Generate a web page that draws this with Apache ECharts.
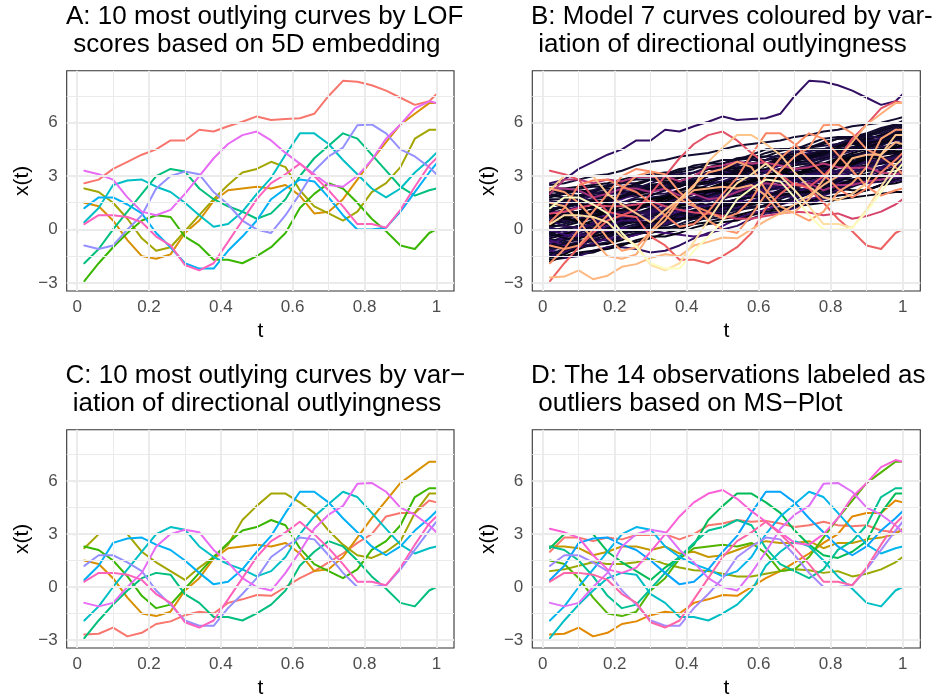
<!DOCTYPE html>
<html><head><meta charset="utf-8">
<script src="https://cdn.jsdelivr.net/npm/echarts@6/dist/echarts.min.js"></script>
<style>html,body{margin:0;padding:0;background:#fff}#c{width:936px;height:700px}</style>
</head><body><div id="c"></div><script>
// ---- data ----
const tGrid = [0.02,0.06,0.10,0.14,0.18,0.22,0.26,0.30,0.34,0.38,0.42,0.46,0.50,0.54,0.58,0.62,0.66,0.70,0.74,0.78,0.82,0.86,0.90,0.94,0.98,1.00];

const u01 = [2.6,2.8,3.4,3.8,4.2,4.5,5.0,5.0,5.6,5.5,5.8,6.05,6.35,6.15,6.2,6.25,6.5,7.5,8.35,8.3,8.1,7.8,7.4,7.0,7.2,7.6];
const u02 = [1.5,1.3,0.5,-0.6,-1.5,-1.65,-1.4,-0.2,0.5,1.6,2.2,2.3,2.4,2.3,2.5,1.9,0.9,1.0,1.7,2.8,3.9,4.9,5.9,6.5,7.1,7.1];
const u03 = [2.3,2.1,1.5,0.6,-0.5,-1.2,-1.0,-0.1,0.8,1.7,2.5,3.2,3.4,3.8,3.5,2.2,1.3,0.9,0.5,1.0,2.1,2.6,3.5,5.1,5.6,5.6];
const u04 = [-2.9,-1.9,-1.0,-0.2,0.5,0.8,0.7,-0.4,-0.9,-1.7,-1.7,-1.9,-1.5,-1.0,-0.2,1.2,2.0,2.6,2.3,1.5,0.6,-0.1,-0.9,-1.1,-0.2,0.0];
const u05 = [-1.9,-1.1,0.0,1.0,2.0,3.0,3.4,3.25,2.3,1.7,1.3,1.0,0.6,0.9,1.7,3.0,4.0,4.7,5.4,5.1,4.2,3.3,2.4,1.9,2.2,2.3];
const u06 = [0.4,1.2,2.5,2.75,2.8,2.4,2.1,1.5,0.8,0.15,0.3,1.0,2.0,2.9,4.2,5.4,5.4,4.8,3.9,3.1,2.3,1.8,2.3,3.2,3.9,4.3];
const u07 = [1.2,1.8,1.8,1.4,0.9,-0.2,-1.0,-1.9,-2.2,-2.2,-1.2,-0.4,0.5,1.7,2.3,2.8,2.7,1.8,0.8,0.0,0.0,0.1,1.0,2.1,3.2,3.7];
const u08 = [-0.9,-1.1,-0.9,0.0,0.8,2.3,3.0,3.25,3.1,2.1,1.4,0.5,0.0,-0.2,0.8,2.0,3.3,4.1,4.6,5.85,5.9,5.4,4.5,4.1,3.5,3.1];
const u09 = [3.3,3.1,2.8,1.8,1.0,0.8,1.1,2.0,3.0,4.0,4.8,5.3,5.5,5.0,4.3,3.7,3.1,2.5,2.4,3.0,3.9,5.1,5.9,6.8,7.2,7.1];
const u10 = [0.3,0.8,0.8,0.7,0.4,-0.4,-0.9,-2.0,-2.3,-1.9,-0.7,0.5,1.7,2.6,3.1,3.7,3.0,2.2,1.3,0.3,0.3,0.1,1.1,2.4,3.6,4.0];
const u11 = [-2.7,-2.65,-2.3,-2.8,-2.6,-2.1,-1.95,-1.6,-1.4,-1.5,-0.9,-0.7,-0.45,-0.5,0.0,0.5,0.9,1.4,1.9,2.5,3.0,4.0,4.2,4.2,4.9,4.8];
const u12 = [2.2,3.0,3.0,3.0,2.0,1.4,0.9,0.4,1.1,1.7,2.4,3.8,4.6,5.3,5.3,4.8,4.2,3.2,2.4,1.8,1.65,2.0,2.6,4.2,5.3,5.3];
const u13 = [2.0,2.8,2.8,2.6,2.8,2.7,2.95,2.95,3.0,2.7,3.0,3.5,3.6,3.8,3.7,3.75,3.6,3.4,3.5,3.7,3.5,3.45,3.5,3.2,3.1,3.2];
const u14 = [2.3,2.3,2.2,1.8,2.0,2.3,2.3,2.1,2.3,1.9,2.0,1.7,1.8,2.1,2.4,2.6,2.5,2.5,2.6,2.2,2.5,2.5,2.7,2.8,3.0,3.3];
const u15 = [0.9,1.0,1.2,1.4,1.3,1.3,1.4,1.6,1.3,1.1,0.95,0.9,0.75,0.6,0.6,0.75,0.9,1.0,0.95,0.8,0.9,0.6,0.75,1.0,1.4,1.7];

// panel membership (in drawing order)
const panelA = [u01,u02,u03,u04,u05,u06,u07,u08,u09,u10];
const panelC = [u11,u02,u12,u03,u04,u05,u06,u07,u08,u10];
const panelD = [u13,u11,u14,u15,u02,u12,u03,u04,u05,u06,u07,u08,u09,u10];

// panel B: typical curves (estimated) and the outlying ones, with variation of directional outlyingness (0..1 scaled)
const bgCurvesLow = [
 [-1.7,-1.6,-1.4,-1.3,-1.0,-0.8,-0.7,-0.5,-0.2,0.0,0.3,0.4,0.6,0.7,0.9,1.1,1.2,1.3,1.4,1.5,1.7,1.8,1.9,2.0,2.1,2.1],
 [-1.5,-1.2,-1.0,-0.9,-0.8,-0.5,-0.3,0.0,0.1,0.2,0.4,0.7,0.9,1.1,1.2,1.3,1.5,1.8,2.0,2.1,2.3,2.6,2.8,2.9,3.1,3.2],
 [-1.3,-1.3,-1.1,-0.8,-0.4,-0.2,-0.1,0.1,0.4,0.6,0.6,0.8,1.1,1.2,1.4,1.6,1.9,2.0,2.1,2.4,2.5,2.6,2.7,3.0,3.2,3.3],
 [-1.2,-0.9,-0.7,-0.6,-0.6,-0.3,0.0,0.3,0.5,0.6,0.7,0.9,1.2,1.5,1.6,1.7,1.8,2.1,2.3,2.5,2.6,2.7,2.9,3.2,3.5,3.6],
 [-1.0,-1.1,-0.9,-0.6,-0.3,-0.2,0.0,0.1,0.3,0.6,0.9,1.1,1.2,1.3,1.5,1.8,2.1,2.2,2.3,2.6,2.8,3.0,3.1,3.3,3.4,3.5],
 [-0.9,-0.6,-0.4,-0.4,-0.2,0.1,0.3,0.4,0.4,0.7,1.0,1.2,1.3,1.6,1.9,2.0,2.1,2.3,2.6,2.8,2.9,3.0,3.3,3.5,3.6,3.7],
 [-0.8,-0.8,-0.5,-0.2,0.0,0.0,0.2,0.5,0.8,0.9,1.0,1.2,1.5,1.7,1.8,1.9,2.2,2.5,2.6,2.7,2.9,3.2,3.4,3.5,3.6,3.7],
 [-0.7,-0.4,-0.3,-0.1,0.1,0.4,0.6,0.6,0.7,1.0,1.3,1.4,1.5,1.7,2.0,2.2,2.3,2.4,2.7,2.9,3.0,3.2,3.5,3.7,3.8,3.8],
 [-0.6,-0.6,-0.4,0.0,0.3,0.4,0.5,0.7,1.0,1.2,1.3,1.4,1.7,2.0,2.1,2.2,2.4,2.7,2.9,3.0,3.1,3.4,3.6,3.7,3.8,4.0],
 [-0.5,-0.3,0.0,0.1,0.1,0.3,0.6,0.9,1.0,1.1,1.3,1.6,1.8,1.9,2.0,2.3,2.6,2.7,2.8,3.0,3.3,3.5,3.6,3.7,4.0,4.1],
 [-0.4,-0.2,-0.2,0.1,0.4,0.6,0.6,0.8,1.1,1.4,1.5,1.6,1.8,2.1,2.3,2.4,2.5,2.8,3.1,3.2,3.3,3.5,3.8,4.0,4.1,4.2],
 [-0.3,-0.3,0.0,0.3,0.4,0.5,0.8,1.1,1.2,1.3,1.5,1.8,2.0,2.1,2.2,2.5,2.8,2.9,3.0,3.2,3.5,3.7,3.8,3.9,4.1,4.2]
];
const bgCurvesMid = [
 [-0.2,0.0,0.2,0.2,0.4,0.7,1.0,1.0,1.1,1.4,1.7,1.9,1.9,2.1,2.4,2.7,2.8,2.8,3.0,3.3,3.6,3.7,3.7,3.9,4.2,4.3],
 [-0.1,0.1,0.1,0.3,0.6,0.9,0.9,1.0,1.3,1.6,1.7,1.8,2.0,2.3,2.6,2.6,2.7,3.0,3.3,3.4,3.5,3.6,3.9,4.2,4.3,4.3],
 [0.0,0.0,0.2,0.5,0.7,0.8,0.9,1.2,1.5,1.6,1.6,1.9,2.2,2.4,2.5,2.6,2.9,3.2,3.3,3.3,3.5,3.8,4.1,4.2,4.3,4.4],
 [0.1,0.3,0.5,0.6,0.6,0.8,1.1,1.4,1.4,1.5,1.8,2.1,2.2,2.3,2.5,2.8,3.0,3.1,3.2,3.4,3.7,4.0,4.0,4.2,4.5,4.5],
 [0.2,0.2,0.4,0.7,0.9,1.0,1.2,1.3,1.4,1.7,2.0,2.1,2.2,2.4,2.7,2.9,2.9,3.1,3.4,3.6,3.7,3.8,4.1,4.4,4.5,4.6],
 [0.3,0.5,0.6,0.6,0.8,1.1,1.3,1.3,1.5,1.8,2.0,2.0,2.3,2.6,2.7,2.8,3.0,3.3,3.5,3.5,3.7,4.0,4.3,4.4,4.5,4.6],
 [0.4,0.4,0.6,0.9,1.0,1.1,1.2,1.5,1.8,1.9,2.0,2.2,2.5,2.6,2.7,2.9,3.2,3.4,3.4,3.6,3.9,4.2,4.3,4.4,4.6,4.7],
 [0.5,0.7,0.8,0.8,1.0,1.3,1.5,1.5,1.7,2.0,2.2,2.2,2.4,2.7,2.9,2.9,3.1,3.4,3.6,3.7,3.8,4.1,4.4,4.5,4.6,4.8],
 [0.6,0.6,0.8,1.1,1.2,1.3,1.5,1.8,1.9,2.0,2.2,2.5,2.7,2.7,2.9,3.2,3.4,3.4,3.6,3.9,4.1,4.1,4.3,4.6,4.8,4.9],
 [0.7,0.9,1.0,1.0,1.2,1.5,1.7,1.7,1.9,2.2,2.3,2.3,2.6,2.9,3.0,3.0,3.3,3.6,3.7,3.7,4.0,4.3,4.5,4.5,4.7,5.0],
 [0.8,0.8,1.0,1.3,1.4,1.5,1.8,2.0,2.0,2.2,2.5,2.6,2.7,3.0,3.2,3.2,3.4,3.7,3.9,4.0,4.2,4.4,4.6,4.8,5.0,5.0],
 [0.9,1.1,1.2,1.2,1.5,1.8,1.9,1.9,2.2,2.5,2.5,2.6,2.9,3.1,3.1,3.3,3.6,3.8,3.8,4.0,4.3,4.5,4.6,4.8,5.1,5.1]
];
const bgCurvesHigh = [
 [1.0,1.0,1.3,1.5,1.6,1.7,2.0,2.2,2.2,2.4,2.7,2.8,2.9,3.2,3.3,3.3,3.6,3.9,4.0,4.1,4.4,4.6,4.7,4.9,5.2,5.3],
 [1.1,1.3,1.4,1.4,1.7,1.9,2.0,2.1,2.4,2.6,2.6,2.7,3.0,3.3,3.3,3.4,3.7,4.0,4.0,4.2,4.5,4.6,4.8,5.1,5.3,5.3],
 [1.2,1.2,1.4,1.7,1.8,1.8,2.1,2.4,2.4,2.5,2.8,3.0,3.0,3.2,3.5,3.6,3.6,3.9,4.2,4.2,4.3,4.6,4.9,5.0,5.2,5.4],
 [1.4,1.5,1.5,1.7,2.0,2.1,2.1,2.3,2.6,2.7,2.7,3.0,3.2,3.2,3.4,3.7,3.8,3.8,4.1,4.4,4.4,4.6,4.9,5.1,5.3,5.5],
 [1.5,1.4,1.6,1.9,2.0,2.0,2.3,2.5,2.5,2.7,3.0,3.1,3.1,3.4,3.7,3.7,3.8,4.1,4.3,4.3,4.6,4.9,5.0,5.1,5.4,5.6],
 [1.7,1.7,1.8,2.0,2.1,2.2,2.4,2.5,2.6,2.9,3.0,3.1,3.3,3.5,3.6,3.7,4.0,4.1,4.2,4.5,4.7,4.8,5.0,5.3,5.5,5.7],
 [1.9,1.8,1.9,2.2,2.3,2.3,2.5,2.8,2.8,2.9,3.2,3.4,3.4,3.6,3.9,3.9,4.0,4.3,4.5,4.5,4.7,5.0,5.1,5.3,5.6,5.8],
 [2.1,2.2,2.1,2.2,2.5,2.6,2.6,2.8,3.1,3.1,3.2,3.5,3.6,3.6,3.9,4.1,4.1,4.3,4.6,4.7,4.8,5.1,5.3,5.4,5.7,5.9],
 [2.3,2.3,2.4,2.5,2.6,2.8,3.0,3.0,3.1,3.4,3.5,3.5,3.7,4.0,4.1,4.1,4.4,4.6,4.6,4.8,5.1,5.2,5.3,5.6,5.9,6.0],
 [2.5,2.6,2.8,3.0,3.1,3.3,3.6,3.8,3.9,4.1,4.2,4.3,4.5,4.7,4.8,4.9,5.0,5.2,5.3,5.5,5.6,5.8,5.9,6.0,6.2,6.3]
];
const bgCurvesWavy = [
 [-0.8,-0.5,0.0,0.4,0.7,0.8,0.7,0.6,0.8,1.1,1.0,0.9,1.1,1.5,1.9,2.3,2.5,2.4,2.5,2.9,3.3,3.4,3.3,3.5,3.9,4.0],
 [1.5,1.2,0.9,0.7,0.6,0.8,1.1,1.5,1.9,2.1,2.0,1.9,2.1,2.5,2.8,3.0,2.9,2.8,3.1,3.5,3.8,3.9,3.7,3.8,4.2,4.4],
 [0.2,0.6,1.0,1.3,1.4,1.3,1.2,1.4,1.8,2.2,2.4,2.3,2.1,2.2,2.6,3.0,3.2,3.1,3.0,3.3,3.7,4.0,4.1,4.0,4.1,4.3],
 [-1.2,-1.3,-1.0,-0.5,-0.1,0.1,0.0,0.0,0.3,0.7,1.0,1.0,0.9,1.2,1.6,1.9,1.9,1.8,2.1,2.5,2.7,2.6,2.6,2.9,3.1,3.2],
 [0.9,0.7,0.4,0.3,0.5,0.9,1.3,1.5,1.4,1.4,1.7,2.1,2.4,2.4,2.3,2.5,2.9,3.2,3.2,3.0,3.2,3.6,3.9,3.9,3.8,3.9],
 [2.0,1.8,1.6,1.7,2.1,2.4,2.5,2.3,2.2,2.5,2.9,3.1,3.0,2.9,3.2,3.6,3.8,3.7,3.7,4.1,4.5,4.6,4.5,4.7,5.1,5.2],
 [-0.3,0.0,0.2,0.1,0.0,0.2,0.6,0.9,0.9,0.8,1.0,1.4,1.6,1.5,1.5,1.8,2.2,2.3,2.2,2.3,2.7,3.0,3.0,2.9,3.1,3.3],
 [0.5,0.2,0.1,0.3,0.7,1.0,1.0,0.9,1.2,1.6,1.8,1.7,1.7,2.1,2.5,2.6,2.4,2.5,2.9,3.3,3.3,3.2,3.4,3.8,4.1,4.1],
 [-1.6,-1.4,-1.0,-0.8,-0.8,-0.6,-0.2,0.1,0.1,0.1,0.4,0.8,0.9,0.8,1.0,1.4,1.6,1.5,1.6,2.0,2.3,2.2,2.2,2.5,2.8,2.9],
 [1.3,1.6,1.9,1.9,1.8,1.9,2.2,2.5,2.6,2.5,2.6,3.0,3.3,3.3,3.3,3.6,4.0,4.1,4.0,4.2,4.6,4.8,4.7,4.8,5.1,5.3],
 [0.0,-0.3,-0.4,-0.2,0.2,0.5,0.5,0.4,0.6,1.0,1.3,1.3,1.2,1.5,1.9,2.1,2.0,2.0,2.4,2.8,2.9,2.8,3.0,3.4,3.6,3.7],
 [-1.0,-0.7,-0.6,-0.7,-0.5,-0.1,0.2,0.2,0.2,0.5,0.9,1.1,1.0,1.1,1.5,1.9,2.0,1.9,2.1,2.5,2.8,2.8,2.8,3.2,3.5,3.5],
 [1.8,2.0,2.2,2.1,2.0,2.2,2.6,2.8,2.7,2.7,3.0,3.4,3.5,3.4,3.5,3.9,4.2,4.2,4.1,4.4,4.8,4.9,4.8,5.0,5.4,5.5],
 [0.7,0.5,0.6,0.9,1.1,1.0,0.9,1.1,1.5,1.8,1.8,1.7,1.9,2.3,2.6,2.5,2.4,2.7,3.1,3.3,3.2,3.2,3.5,3.9,4.1,4.2],
 [-1.4,-1.6,-1.5,-1.2,-1.0,-1.0,-1.1,-1.3,-1.2,-0.9,-0.5,-0.2,0.0,0.2,0.6,0.9,1.0,1.2,1.5,1.7,1.9,2.0,2.2,2.5,2.7,2.8],
 [-0.6,-0.9,-1.0,-0.8,-0.5,-0.5,-0.3,-0.1,-0.2,-0.3,-0.4,-0.3,0.2,0.6,0.9,1.1,1.4,1.6,1.7,1.9,2.2,2.5,2.6,2.7,2.9,3.0]
];
const bgCurvesExtra = [
 [-1.8,-1.5,-1.3,-1.2,-1.1,-0.9,-0.6,-0.4,-0.4,-0.2,0.1,0.3,0.4,0.5,0.8,1.0,1.1,1.3,1.6,1.8,1.9,2.0,2.2,2.5,2.6,2.7],
 [-1.1,-0.8,-0.8,-0.6,-0.3,-0.1,0.1,0.2,0.5,0.8,0.8,0.9,1.1,1.4,1.5,1.5,1.7,2.0,2.2,2.2,2.4,2.7,2.9,3.0,3.0,3.1],
 [-0.2,-0.5,-0.5,-0.3,0.0,0.3,0.4,0.4,0.6,0.9,1.1,1.2,1.4,1.7,1.8,1.9,2.1,2.4,2.5,2.5,2.7,3.0,3.3,3.3,3.4,3.6],
 [0.4,0.7,0.9,1.0,1.0,1.1,1.4,1.7,1.8,1.8,2.0,2.3,2.6,2.6,2.7,3.0,3.3,3.4,3.4,3.6,3.9,4.1,4.1,4.3,4.6,4.7],
 [1.6,1.5,1.7,2.0,2.2,2.2,2.3,2.6,2.9,3.0,3.0,3.2,3.5,3.7,3.7,3.9,4.2,4.4,4.4,4.5,4.8,5.1,5.2,5.2,5.5,5.7],
 [2.2,2.0,1.9,2.1,2.4,2.7,2.8,2.8,3.0,3.3,3.6,3.7,3.7,3.9,4.2,4.5,4.5,4.5,4.8,5.1,5.2,5.2,5.4,5.7,5.9,6.1],
 [-0.9,-1.0,-0.8,-0.4,-0.2,-0.1,0.1,0.4,0.6,0.6,0.7,1.0,1.3,1.4,1.4,1.6,1.9,2.1,2.1,2.2,2.5,2.8,2.9,2.9,3.1,3.3],
 [0.1,-0.1,0.0,0.3,0.6,0.7,0.7,0.9,1.2,1.5,1.5,1.6,1.9,2.2,2.3,2.3,2.5,2.8,3.1,3.1,3.2,3.5,3.8,3.9,4.0,4.1],
 [1.0,1.3,1.5,1.6,1.6,1.8,2.1,2.3,2.3,2.4,2.7,3.0,3.1,3.1,3.3,3.6,3.9,3.9,4.0,4.3,4.5,4.5,4.6,4.9,5.1,5.1],
 [-1.4,-1.1,-0.9,-0.9,-0.7,-0.4,-0.2,-0.2,0.0,0.3,0.6,0.6,0.7,1.0,1.3,1.3,1.4,1.7,2.0,2.0,2.1,2.4,2.7,2.7,2.8,2.9],
 [0.8,0.6,0.5,0.7,1.0,1.3,1.4,1.4,1.6,1.9,2.1,2.1,2.2,2.5,2.8,2.9,2.9,3.1,3.4,3.6,3.6,3.7,4.0,4.3,4.4,4.4],
 [1.9,2.1,2.3,2.4,2.4,2.6,2.9,3.1,3.2,3.2,3.4,3.7,3.9,3.9,4.0,4.3,4.5,4.5,4.6,4.9,5.1,5.1,5.2,5.5,5.8,5.9]
];
const bgVO = [0.04,0.09,0.02,0.15,0.06,0.11,0.03,0.19,0.08,0.05,0.13,0.01,0.07,0.17,0.03,0.1,0.05,0.21,0.08,0.02,0.12,0.04,0.14,0.06,0.22,0.03,0.1,0.05,0.16,0.08,0.03,0.12,0.06,0.09,0.18,0.07,0.02,0.2,0.04,0.11,0.08,0.15,0.03,0.06,0.19,0.1,0.05,0.13,0.17,0.23,
 0.04,0.1,0.06,0.02,0.12,0.08,0.03,0.16,0.05,0.09,0.02,0.07];
const outB = [u01,u13,u14,u15,u09,u04,u06,u05,u08,u03,u02,u11,u12,u10,u07];
const outBVO = [0.18,0.5,0.45,0.58,0.62,0.66,0.74,0.76,0.78,0.8,0.83,0.85,0.88,0.93,1.0];

const xTicks = [0,0.2,0.4,0.6,0.8,1];
const xMinor = [0.1,0.3,0.5,0.7,0.9];
const yTicks = [-3,0,3,6];
const yMinor = [-1.5,1.5,4.5,7.5];
const titles = [
 'A: 10 most outlying curves by LOF\n scores based on 5D embedding',
 'B: Model 7 curves coloured by var-\n iation of directional outlyingness',
 'C: 10 most outlying curves by var\u2212\n iation of directional outlyingness',
 'D: The 14 observations labeled as\n outliers based on MS\u2212Plot'
];
const hue10 = ['#F8766D','#D89000','#A3A500','#39B600','#00BF7D','#00BFC4','#00B0F6','#9590FF','#E76BF3','#FF62BC'];
const hue14 = ['#F8766D','#E38900','#C49A00','#99A800','#53B400','#00BC56','#00C094','#00BFC4','#00B6EB','#06A4FF','#A58AFF','#DF70F8','#FB61D7','#FF66A8'];
const magma = ['#000004','#140E36','#3B0F70','#641A80','#8C2981','#B73779','#DE4968','#F7705C','#FE9F6D','#FECF92','#FCFDBF'];

// ---- layout ----
const FONT = '"Liberation Sans", Arial, Helvetica, sans-serif';
const grids = [
 {left:66.7, top:70.7, width:387.3, height:220.3},
 {left:532.3, top:70.7, width:388, height:220.3},
 {left:66.7, top:429.7, width:387.3, height:219.3},
 {left:532.3, top:429.7, width:388, height:219.3}
];
const titlePos = [{left:66,top:3},{left:531,top:3},{left:65.5,top:362},{left:531,top:362}];

function hex(c){return [parseInt(c.slice(1,3),16),parseInt(c.slice(3,5),16),parseInt(c.slice(5,7),16)];}
function magmaColor(v){
  const p = Math.max(0,Math.min(1,v))*(magma.length-1);
  const i = Math.min(Math.floor(p), magma.length-2), f = p-i;
  const a = hex(magma[i]), b = hex(magma[i+1]);
  return 'rgb('+a.map((x,k)=>Math.round(x+(b[k]-x)*f)).join(',')+')';
}
function curve(vals, color, gi){
  return {type:'line', xAxisIndex:gi, yAxisIndex:gi, data:tGrid.map((t,i)=>[t,vals[i]]),
    showSymbol:false, symbol:'none', smooth:false, lineStyle:{color:color, width:2, join:'round', cap:'round'}, itemStyle:{color:color},
    z:3, silent:true, animation:false, emphasis:{disabled:true}};
}
function gridLines(gi){
  const maj = {color:'#EBEBEB', width:1.9, type:'solid'}, mn = {color:'#EBEBEB', width:1, type:'solid'};
  return {type:'line', xAxisIndex:gi, yAxisIndex:gi, data:[], z:1, silent:true, animation:false,
    markLine:{silent:true, symbol:['none','none'], label:{show:false}, animation:false, emphasis:{disabled:true},
      data:[].concat(
        xMinor.map(v=>({xAxis:v, lineStyle:mn})), yMinor.map(v=>({yAxis:v, lineStyle:mn})),
        xTicks.map(v=>({xAxis:v, lineStyle:maj})), yTicks.map(v=>({yAxis:v, lineStyle:maj})))}};
}

const series = [];
for (let g=0; g<4; g++) series.push(gridLines(g));
panelA.forEach((c,i)=>series.push(curve(c,hue10[i],0)));
const bgAll = [].concat(bgCurvesLow,bgCurvesMid,bgCurvesHigh,bgCurvesWavy,bgCurvesExtra);
bgAll.forEach((c,i)=>series.push(curve(c,magmaColor(bgVO[i]),1)));
outB.forEach((c,i)=>series.push(curve(c,magmaColor(outBVO[i]),1)));
panelC.forEach((c,i)=>series.push(curve(c,hue10[i],2)));
panelD.forEach((c,i)=>series.push(curve(c,hue14[i],3)));

const minus = s => String(s).replace('-','\u2212');
const option = {
  backgroundColor:'#fff', animation:false,
  textStyle:{fontFamily:FONT},
  title: titles.map((t,i)=>({text:t, left:titlePos[i].left, top:titlePos[i].top, padding:0,
    textStyle:{fontFamily:FONT, fontSize:26, fontWeight:'normal', color:'#000', lineHeight:28}})),
  grid: grids.map(g=>Object.assign({show:true, borderColor:'#333333', borderWidth:1.1, backgroundColor:'#fff', containLabel:false}, g)),
  xAxis: grids.map((g,i)=>({gridIndex:i, type:'value', min:-0.029, max:1.049,
    name:'t', nameLocation:'middle', nameGap:30, nameTextStyle:{fontFamily:FONT, fontSize:21, color:'#000'},
    axisLine:{show:false},
    axisTick:{show:true, customValues:xTicks, length:4, lineStyle:{color:'#333333', width:1.1}},
    axisLabel:{customValues:xTicks, fontFamily:FONT, fontSize:17, color:'#4D4D4D', margin:8, formatter:v=>String(v)},
    splitLine:{show:false}, minorSplitLine:{show:false}})),
  yAxis: grids.map((g,i)=>({gridIndex:i, type:'value', min:-3.46, max:8.92,
    name:'x(t)', nameLocation:'middle', nameGap:34, nameTextStyle:{fontFamily:FONT, fontSize:21, color:'#000'},
    axisLine:{show:false},
    axisTick:{show:true, customValues:yTicks, length:4, lineStyle:{color:'#333333', width:1.1}},
    axisLabel:{customValues:yTicks, fontFamily:FONT, fontSize:17, color:'#4D4D4D', margin:9, formatter:minus},
    splitLine:{show:false}, minorSplitLine:{show:false}})),
  series: series
};
const chart = echarts.init(document.getElementById('c'), null, {renderer:'canvas'});
chart.setOption(option);
</script></body></html>
